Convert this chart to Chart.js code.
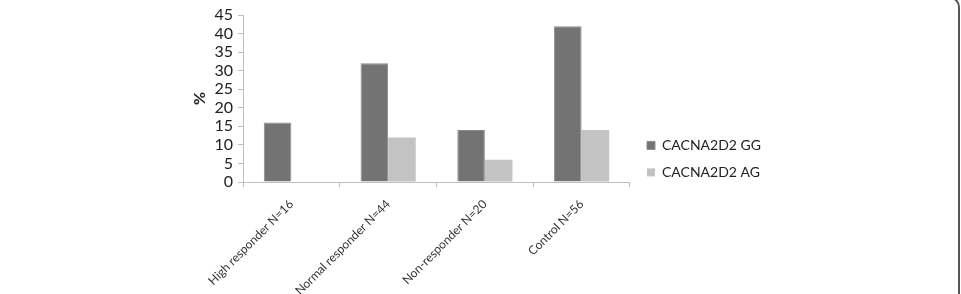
<!DOCTYPE html>
<html lang="en">
<head>
  <meta charset="UTF-8">
  <title>CACNA2D2 genotypes</title>
  <script src="https://cdn.jsdelivr.net/npm/chart.js"></script>
  <style>
    html, body {
      margin: 0;
      padding: 0;
      background: #ffffff;
      overflow: hidden;
    }
    .frame {
      position: absolute;
      left: -20px;
      top: -3px;
      width: 976px;
      height: 320px;
      border: 2px solid #555555;
      border-radius: 10px;
    }
    #genoChart {
      position: absolute;
      left: 0;
      top: 0;
    }
  </style>
</head>
<body>
  <div class="frame"></div>
  <canvas id="genoChart" width="961" height="294"></canvas>

  <script>
    const groups = ['High responder N=16', 'Normal responder N=44', 'Non-responder N=20', 'Control N=56'];
    const ggValues = [16, 32, 14, 42];
    const agValues = [0, 12, 6, 14];
    const seriesNames = ['CACNA2D2 GG', 'CACNA2D2 AG'];
    const yTicks = [0, 5, 10, 15, 20, 25, 30, 35, 40, 45];

    const axisColor = '#bfbfbf';
    const textColor = '#222222';

    // nudge the legend a few px right of the plot edge
    const legendShift = {
      id: 'legendShift',
      afterLayout(chart) {
        const lg = chart.legend;
        if (lg) {
          lg.left += 4;
          lg.right += 4;
        }
      }
    };

    const ctx = document.getElementById('genoChart').getContext('2d');
    new Chart(ctx, {
      type: 'bar',
      data: {
        labels: groups,
        datasets: [
          {
            label: seriesNames[0],
            data: ggValues,
            backgroundColor: '#737373',
            borderColor: '#8a8a8a',
            borderWidth: 1,
            categoryPercentage: 0.57,
            barPercentage: 1
          },
          {
            label: seriesNames[1],
            data: agValues,
            backgroundColor: '#c3c3c3',
            borderWidth: 0,
            categoryPercentage: 0.57,
            barPercentage: 1
          }
        ]
      },
      options: {
        responsive: false,
        animation: false,
        layout: {
          padding: { left: 190, right: 194, top: 15, bottom: 0 }
        },
        scales: {
          x: {
            grid: {
              display: true,
              drawOnChartArea: false,
              offset: true,
              tickLength: 5,
              color: axisColor
            },
            border: { color: axisColor, width: 1 },
            ticks: {
              color: '#333333',
              font: { family: 'Lato', size: 12 },
              minRotation: 45,
              maxRotation: 45,
              padding: 10
            },
            afterFit(scale) { scale.height = 112; }
          },
          y: {
            min: 0,
            max: 45,
            grid: {
              display: true,
              drawOnChartArea: false,
              tickLength: 5,
              color: axisColor
            },
            border: { color: axisColor, width: 1 },
            afterBuildTicks(scale) {
              scale.ticks = yTicks.map(v => ({ value: v }));
            },
            ticks: {
              autoSkip: false,
              color: textColor,
              font: { family: 'Lato', size: 16 },
              padding: 5
            },
            title: {
              display: true,
              text: '%',
              color: textColor,
              font: { family: 'Lato', size: 16, weight: 'bold' },
              padding: 0
            },
            afterFit(scale) { scale.width = 53; }
          }
        },
        plugins: {
          legend: {
            position: 'right',
            align: 'start',
            title: {
              display: true,
              text: '',
              font: { size: 12 },
              padding: { top: 96, bottom: 0 }
            },
            labels: {
              color: textColor,
              font: { family: 'Lato', size: 14 },
              boxWidth: 8,
              boxHeight: 8,
              padding: 13
            }
          },
          tooltip: { enabled: false }
        }
      },
      plugins: [legendShift]
    });
  </script>
</body>
</html>
